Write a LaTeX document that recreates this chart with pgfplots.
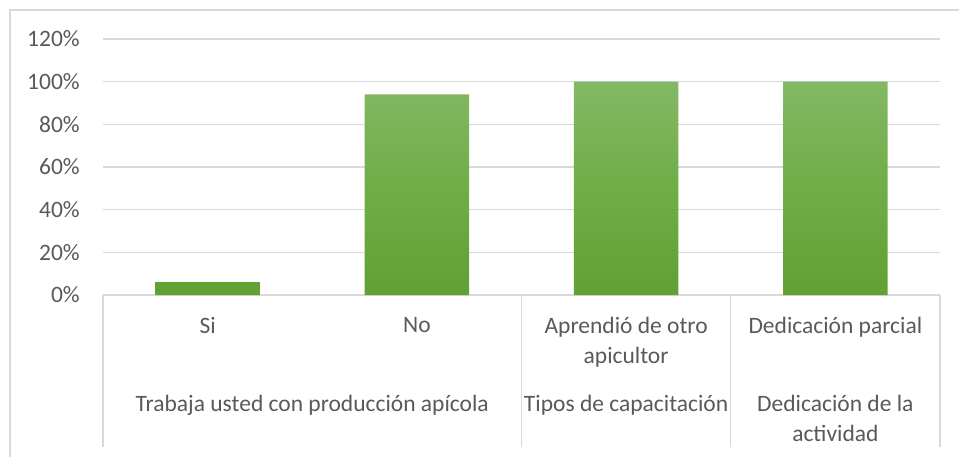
\documentclass[border=0pt]{standalone}
\usepackage{pgfplots}
\pgfplotsset{compat=1.18}
\usepackage{fontspec}
\setmainfont{Carlito}
\definecolor{gridc}{HTML}{D9D9D9}
\definecolor{txt}{HTML}{595959}
\definecolor{bartop}{HTML}{83B864}
\definecolor{barmid}{HTML}{70AD47}
\definecolor{barbot}{HTML}{61A033}
\begin{document}
\fontsize{11.75}{15}\selectfont
\begin{tikzpicture}
\path[use as bounding box] (-51.5pt,-81pt) rectangle (428pt,147.5pt);
\draw[gridc, line width=0.6pt] (-46.5pt,-81pt) -- (-46.5pt,142.5pt) -- (428pt,142.5pt);
\begin{axis}[
  at={(0pt,0pt)}, anchor=south west,
  scale only axis, width=418.5pt, height=128pt,
  xmin=-0.5, xmax=3.5, ymin=0, ymax=120,
  axis line style={draw=none},
  major tick length=0pt,
  ytick={0,20,...,120},
  yticklabel={\pgfmathprintnumber{\tick}\%},
  ymajorgrids, grid style={gridc, line width=0.6pt},
  xtick={0,1,2,3},
  xticklabels={Si, No, {Aprendió de otro\\apicultor}, Dedicación parcial},
  xticklabel style={align=center, anchor=north, yshift=-7pt, text=txt, font=\fontsize{11.75}{15}\selectfont},
  yticklabel style={text=txt, xshift=-7.5pt, font=\fontsize{11.75}{15}\selectfont},
  /pgf/number format/assume math mode=true,
  clip=false,
  ybar, bar width=0.5,
]
\addplot[draw=none, top color=bartop, bottom color=barbot, middle color=barmid] coordinates {(0,6) (1,94) (2,100) (3,100)};
\pgfplotsinvokeforeach{-0.5,1.5,2.5,3.5}{
  \draw[gridc, line width=0.6pt] (axis cs:#1,0) -- ++(0pt,-76pt);
}
\node[anchor=north, align=center, text=txt, yshift=-46pt] at (axis cs:0.5,0) {Trabaja usted con producción apícola};
\node[anchor=north, align=center, text=txt, yshift=-46pt] at (axis cs:2,0) {Tipos de capacitación};
\node[anchor=north, align=center, text=txt, yshift=-46pt] at (axis cs:3,0) {Dedicación de la\\actividad};
\end{axis}
\end{tikzpicture}
\end{document}
